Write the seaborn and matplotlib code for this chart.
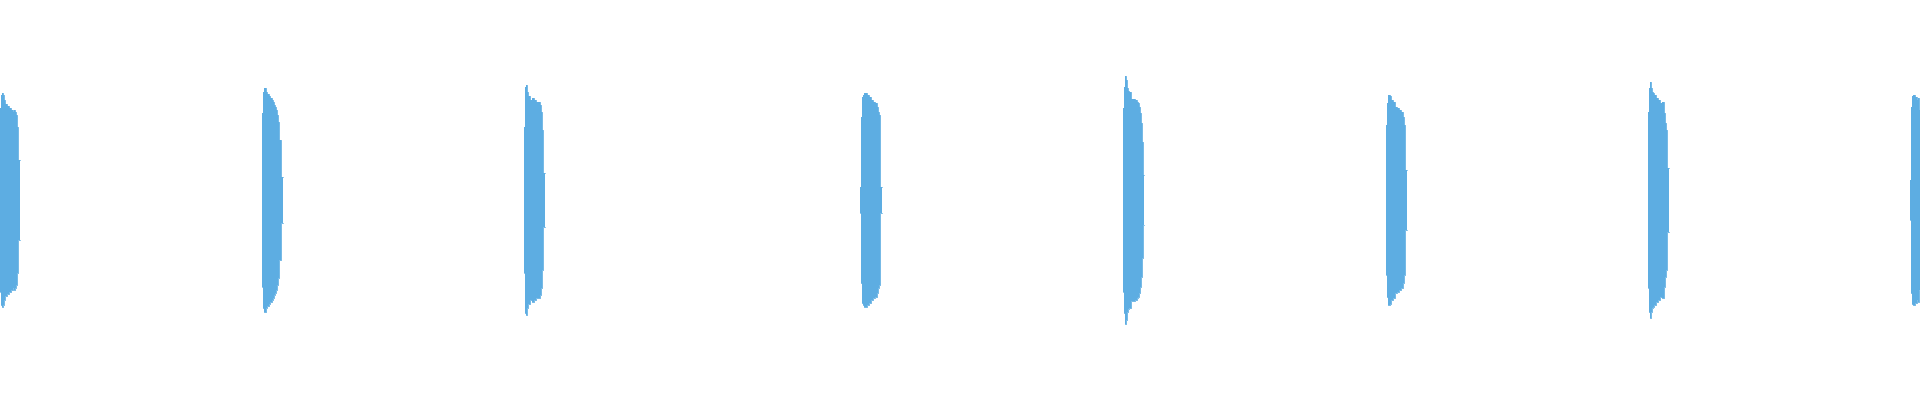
import numpy as np
import pandas as pd
import matplotlib
matplotlib.use("Agg")
import matplotlib.pyplot as plt
import seaborn as sns

# waveform bursts: onset (ms) and peak envelope per 2 ms column (% of full scale)
onsets_ms = [0, 524, 1048, 1720, 2246, 2772, 3296, 3820]
step_ms = 2
duration_ms = 3840

env_1 = [46, 52.5, 53.5, 52.5, 50, 48, 48, 47, 47, 46, 46, 45, 45, 44, 45, 44, 42.5, 36.5, 20, 20]
env_2 = [43.5, 54, 56, 56, 54, 53, 53, 52, 51, 51, 50, 49, 47.5, 46.5, 45, 42.5, 39, 30, 30, 11.5, 11.5]
env_3 = [36.5, 56.5, 57.5, 54, 52, 52, 50, 50, 51, 51, 50, 50, 49, 49, 49, 49, 47.5, 44, 35, 13.5, 13.5]
env_4 = [6.5, 41.5, 51.5, 52.5, 53.5, 53.5, 53.5, 52.5, 52.5, 51.5, 51.5, 50, 50, 49, 49, 48.5, 48.5, 46.5, 44, 42.5, 6.5, 6.5]
env_5 = [46, 56.5, 62, 60, 56, 54.5, 54, 54, 50.5, 50.5, 50.5, 50.5, 50, 50, 49, 48.5, 46.5, 43.5, 38.5, 29, 12.5]
env_6 = [37.5, 48.5, 52.5, 52.5, 52, 50, 50, 49, 49, 46.5, 46.5, 46, 46, 45, 45, 44, 44, 41.5, 37.5, 15, 15]
env_7 = [44, 56, 59, 56, 54, 53.5, 52.5, 52.5, 51, 51, 50, 50, 48.5, 48.5, 49, 49, 43.5, 38.5, 35, 16, 16]
env_8 = [10, 46.5, 52, 52.5, 52.5, 51.5, 51.5, 50, 51, 45]

envelopes = [env_1, env_2, env_3, env_4, env_5, env_6, env_7, env_8]

rows = []
for b, (t0, env) in enumerate(zip(onsets_ms, envelopes)):
    t = t0 + step_ms * np.arange(len(env) + 1)
    e = list(env) + [env[-1]]
    for ti, ei in zip(t, e):
        rows.append({"burst": b, "t": ti, "upper": ei, "lower": -ei})
df = pd.DataFrame(rows)

sns.set_theme(style="white")
color = "#5DADE2"

fig = plt.figure(figsize=(19.2, 4), dpi=100)
ax = fig.add_axes([0, 0, 1, 1])

for b, g in df.groupby("burst"):
    ax.fill_between(g["t"], g["lower"], g["upper"], step="post",
                    color=color, linewidth=0, antialiased=False)
sns.lineplot(data=df, x="t", y="upper", units="burst", estimator=None,
             color=color, linewidth=0.6, drawstyle="steps-post", ax=ax)
sns.lineplot(data=df, x="t", y="lower", units="burst", estimator=None,
             color=color, linewidth=0.6, drawstyle="steps-post", ax=ax)

ax.set_xlim(0, duration_ms)
ax.set_ylim(-100, 100)
ax.axis("off")

fig.savefig("out.png", dpi=100, facecolor="white")
